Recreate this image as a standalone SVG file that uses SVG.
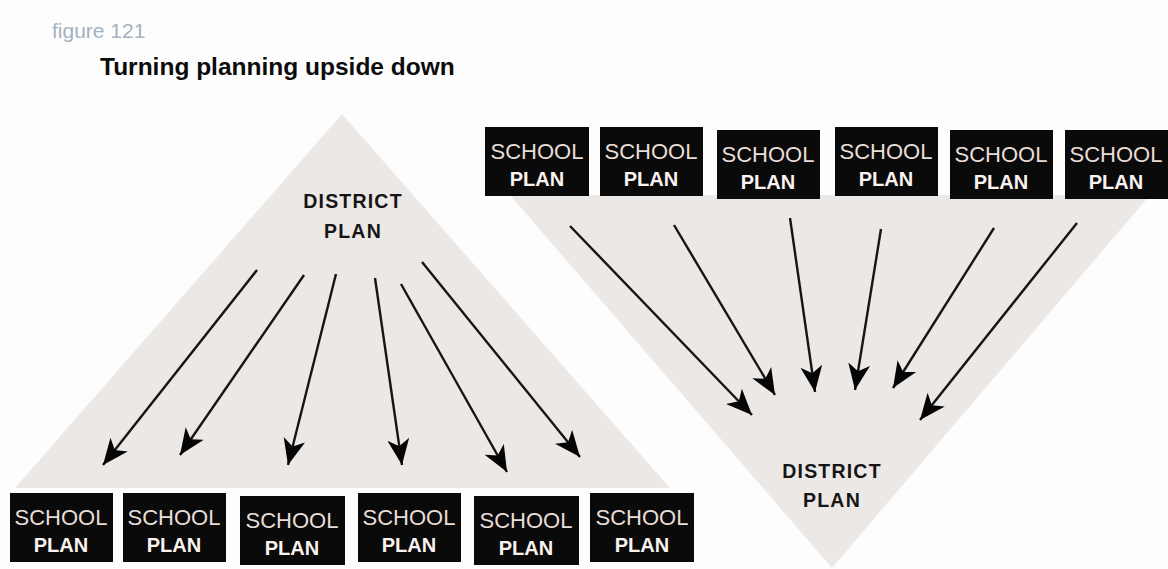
<svg xmlns="http://www.w3.org/2000/svg" width="1168" height="569" viewBox="0 0 1168 569">
  <style>
    .tri { fill: #ece8e5; }
    .box { fill: #0a0a0a; }
    .school { font-family: "Liberation Sans", Arial, sans-serif; font-size: 22px; fill: #e9ddd7; text-anchor: middle; }
    .plan { font-family: "Liberation Sans", Arial, sans-serif; font-size: 20px; font-weight: bold; fill: #fbf3ef; text-anchor: middle; }
    .district { font-family: "Liberation Sans", Arial, sans-serif; font-size: 19.5px; font-weight: bold; fill: #151515; text-anchor: middle; letter-spacing: 1.2px; }
    .arrow { stroke: #151515; stroke-width: 2.4; fill: none; marker-end: url(#head); }
  </style>
  <defs>
    <!-- barbed arrowhead, tip at the line end -->
    <marker id="head" markerUnits="userSpaceOnUse" markerWidth="30" markerHeight="26" refX="26" refY="12" orient="auto">
      <path d="M26,12 L0,1 L7,12 L0,23 Z" fill="#050505"/>
    </marker>
  </defs>

  <rect width="1168" height="569" fill="#fdfdfd"/>

  <!-- heading -->
  <text x="52" y="38" font-family="Liberation Sans, Arial, sans-serif" font-size="21" fill="#a5b2bf">figure 121</text>
  <text x="100" y="75" font-family="Liberation Sans, Arial, sans-serif" font-size="24.5" font-weight="bold" fill="#0c0c0c">Turning planning upside down</text>

  <!-- background triangles -->
  <polygon class="tri" points="342,114 15,488 670,488"/>
  <polygon class="tri" points="510,195 1150,195 832,568"/>

  <!-- top-down: district plan -->
  <g id="district-top">
    <text class="district" x="353" y="208">DISTRICT</text>
    <text class="district" x="353" y="238">PLAN</text>
  </g>

  <!-- bottom-up: district plan -->
  <g id="district-bottom">
    <text class="district" x="832" y="478">DISTRICT</text>
    <text class="district" x="832" y="507">PLAN</text>
  </g>

  <!-- school plans, bottom row -->
  <g id="school-b1"><rect class="box" x="10" y="493" width="103" height="69"/><text class="school" x="61" y="525">SCHOOL</text><text class="plan" x="61" y="552">PLAN</text></g>
  <g id="school-b2"><rect class="box" x="123" y="493" width="103" height="69"/><text class="school" x="174" y="525">SCHOOL</text><text class="plan" x="174" y="552">PLAN</text></g>
  <g id="school-b3"><rect class="box" x="240" y="496" width="105" height="69"/><text class="school" x="292" y="528">SCHOOL</text><text class="plan" x="292" y="555">PLAN</text></g>
  <g id="school-b4"><rect class="box" x="358" y="493" width="103" height="69"/><text class="school" x="409" y="525">SCHOOL</text><text class="plan" x="409" y="552">PLAN</text></g>
  <g id="school-b5"><rect class="box" x="474" y="496" width="105" height="69"/><text class="school" x="526" y="528">SCHOOL</text><text class="plan" x="526" y="555">PLAN</text></g>
  <g id="school-b6"><rect class="box" x="590" y="493" width="104" height="69"/><text class="school" x="642" y="525">SCHOOL</text><text class="plan" x="642" y="552">PLAN</text></g>

  <!-- school plans, top row -->
  <g id="school-t1"><rect class="box" x="485" y="127" width="104" height="69"/><text class="school" x="537" y="159">SCHOOL</text><text class="plan" x="537" y="186">PLAN</text></g>
  <g id="school-t2"><rect class="box" x="600" y="127" width="103" height="69"/><text class="school" x="651" y="159">SCHOOL</text><text class="plan" x="651" y="186">PLAN</text></g>
  <g id="school-t3"><rect class="box" x="717" y="130" width="103" height="69"/><text class="school" x="768" y="162">SCHOOL</text><text class="plan" x="768" y="189">PLAN</text></g>
  <g id="school-t4"><rect class="box" x="835" y="127" width="103" height="69"/><text class="school" x="886" y="159">SCHOOL</text><text class="plan" x="886" y="186">PLAN</text></g>
  <g id="school-t5"><rect class="box" x="950" y="130" width="103" height="69"/><text class="school" x="1001" y="162">SCHOOL</text><text class="plan" x="1001" y="189">PLAN</text></g>
  <g id="school-t6"><rect class="box" x="1065" y="130" width="103" height="69"/><text class="school" x="1116" y="162">SCHOOL</text><text class="plan" x="1116" y="189">PLAN</text></g>

  <!-- connectors -->
  <g id="connectors">
    <line class="arrow" x1="257" y1="270" x2="103" y2="465"/>
    <line class="arrow" x1="304" y1="275" x2="180" y2="455"/>
    <line class="arrow" x1="336" y1="274" x2="288" y2="465"/>
    <line class="arrow" x1="375" y1="278" x2="402" y2="465"/>
    <line class="arrow" x1="401" y1="284" x2="507" y2="472"/>
    <line class="arrow" x1="422" y1="262" x2="580" y2="457"/>

    <line class="arrow" x1="570" y1="226" x2="752" y2="415"/>
    <line class="arrow" x1="674" y1="225" x2="775" y2="395"/>
    <line class="arrow" x1="790" y1="218" x2="815" y2="392"/>
    <line class="arrow" x1="881" y1="229" x2="855" y2="390"/>
    <line class="arrow" x1="994" y1="228" x2="893" y2="388"/>
    <line class="arrow" x1="1077" y1="223" x2="920" y2="420"/>
  </g>
</svg>
